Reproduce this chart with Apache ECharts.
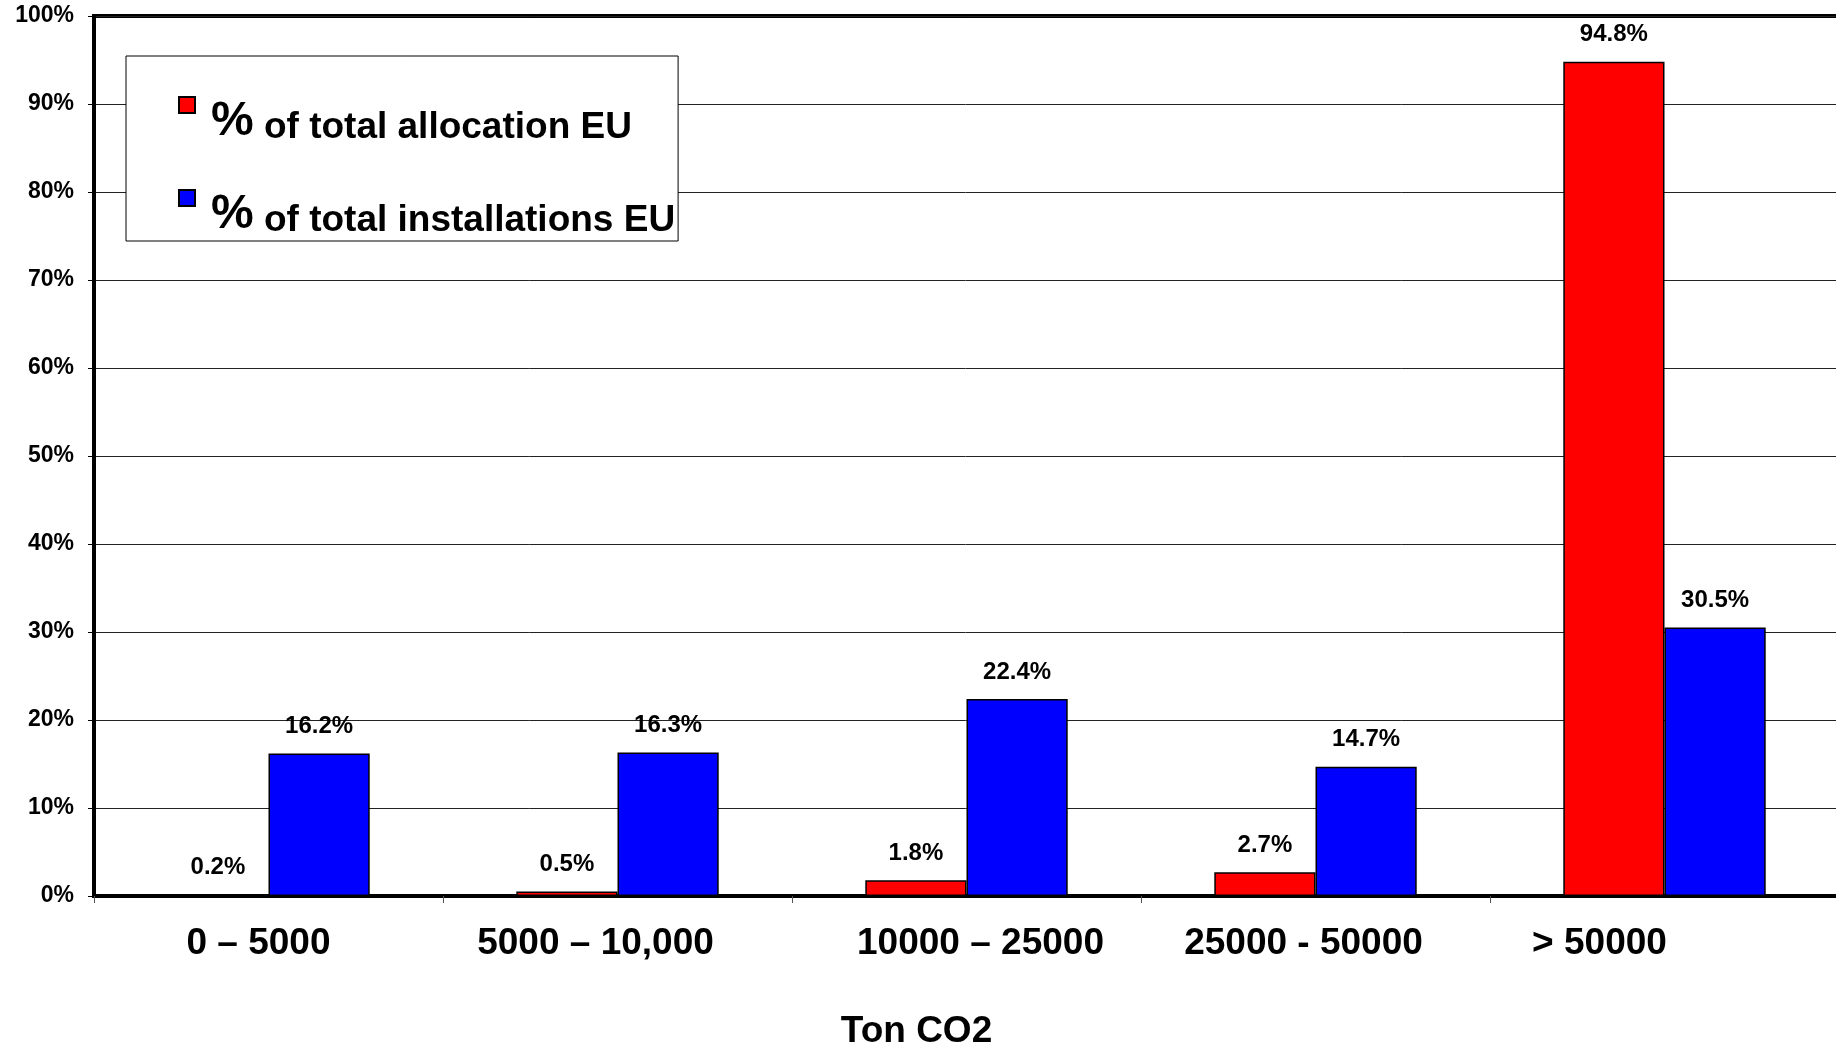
<!DOCTYPE html>
<html>
<head>
<meta charset="utf-8">
<script src="https://cdn.jsdelivr.net/npm/echarts@6/dist/echarts.min.js"></script>
<style>
    html, body { margin: 0; padding: 0; background: #fff; }
    #main { width: 1836px; height: 1048px; }
</style>
</head>
<body>
<div id="main"></div>
<script>
// data
var categories = ['0 – 5000', '5000 – 10,000', '10000 – 25000', '25000 - 50000', '> 50000'];
var allocation = [0.2, 0.5, 1.8, 2.7, 94.8];
var installations = [16.2, 16.3, 22.4, 14.7, 30.5];
var seriesNames = ['% of total allocation EU', '% of total installations EU'];
var axisTitle = 'Ton CO2';

var FONT = '"Liberation Sans", Arial, sans-serif';

// labels in the original are not quite centred under their bars
var labelShift = [-10, -22, 14, -12, -65];
var labelRich = {};
for (var i = 0; i < labelShift.length; i++) {
    var s = labelShift[i];
    labelRich['c' + i] = {
        fontFamily: FONT,
        fontWeight: 'bold',
        fontSize: 37,
        color: '#000',
        padding: s < 0 ? [0, -2 * s, 0, 0] : [0, 0, 0, 2 * s]
    };
}

function barLabel() {
    return {
        show: true,
        position: 'top',
        distance: 15,
        fontFamily: FONT,
        fontWeight: 'bold',
        fontSize: 24,
        color: '#000',
        formatter: function (p) { return p.value.toFixed(1) + '%'; }
    };
}

var myChart = echarts.init(document.getElementById('main'), null, { renderer: 'canvas' });

var option = {
    backgroundColor: '#fff',
    animation: false,
    grid: {
        left: 94,
        top: 16,
        bottom: 152,
        right: -3,
        outerBoundsMode: 'none',
        containLabel: false,
        show: true,
        borderColor: '#000',
        borderWidth: 4,
        backgroundColor: 'transparent'
    },
    legend: {
        orient: 'vertical',
        left: 126,
        top: 56,
        padding: [40, 3, 2, 52],
        itemGap: 43,
        itemWidth: 16,
        itemHeight: 16,
        icon: 'rect',
        backgroundColor: '#fff',
        borderColor: '#000',
        borderWidth: 1,
        data: seriesNames,
        formatter: function (name) {
            return '{p|%}{t|' + name.slice(1) + '}';
        },
        textStyle: {
            padding: [34, 0, 0, 11],
            rich: {
                p: { fontFamily: FONT, fontWeight: 'bold', fontSize: 48, color: '#000', verticalAlign: 'bottom' },
                t: { fontFamily: FONT, fontWeight: 'bold', fontSize: 37, color: '#000', verticalAlign: 'bottom' }
            }
        }
    },
    xAxis: {
        type: 'category',
        data: categories,
        name: axisTitle,
        nameLocation: 'middle',
        nameGap: 117,
        nameTextStyle: {
            fontFamily: FONT,
            fontWeight: 'bold',
            fontSize: 37,
            color: '#000',
            padding: [0, 100, 0, 0]
        },
        axisLine: { lineStyle: { color: '#000', width: 4 } },
        axisTick: { show: true, length: 7, lineStyle: { color: '#555', width: 1 } },
        axisLabel: {
            margin: 29,
            interval: 0,
            formatter: function (v, idx) { return '{c' + idx + '|' + v + '}'; },
            rich: labelRich
        }
    },
    yAxis: {
        type: 'value',
        min: 0,
        max: 100,
        interval: 10,
        axisLine: { show: true, lineStyle: { color: '#000', width: 4 } },
        axisTick: { show: true, length: 6, lineStyle: { color: '#000', width: 1 } },
        axisLabel: {
            margin: 20,
            fontFamily: FONT,
            fontWeight: 'bold',
            fontSize: 23,
            color: '#000',
            formatter: '{value}%'
        },
        splitLine: { show: true, lineStyle: { color: '#222', width: 1 } }
    },
    series: [
        {
            name: seriesNames[0],
            type: 'bar',
            barGap: '0%',
            barCategoryGap: '42%',
            itemStyle: { color: '#ff0000', borderColor: '#000', borderWidth: 1.5 },
            label: barLabel(),
            data: allocation
        },
        {
            name: seriesNames[1],
            type: 'bar',
            barGap: '0%',
            barCategoryGap: '42%',
            itemStyle: { color: '#0000ff', borderColor: '#000', borderWidth: 1.5 },
            label: barLabel(),
            data: installations
        }
    ]
};
myChart.setOption(option);
</script>
</body>
</html>
